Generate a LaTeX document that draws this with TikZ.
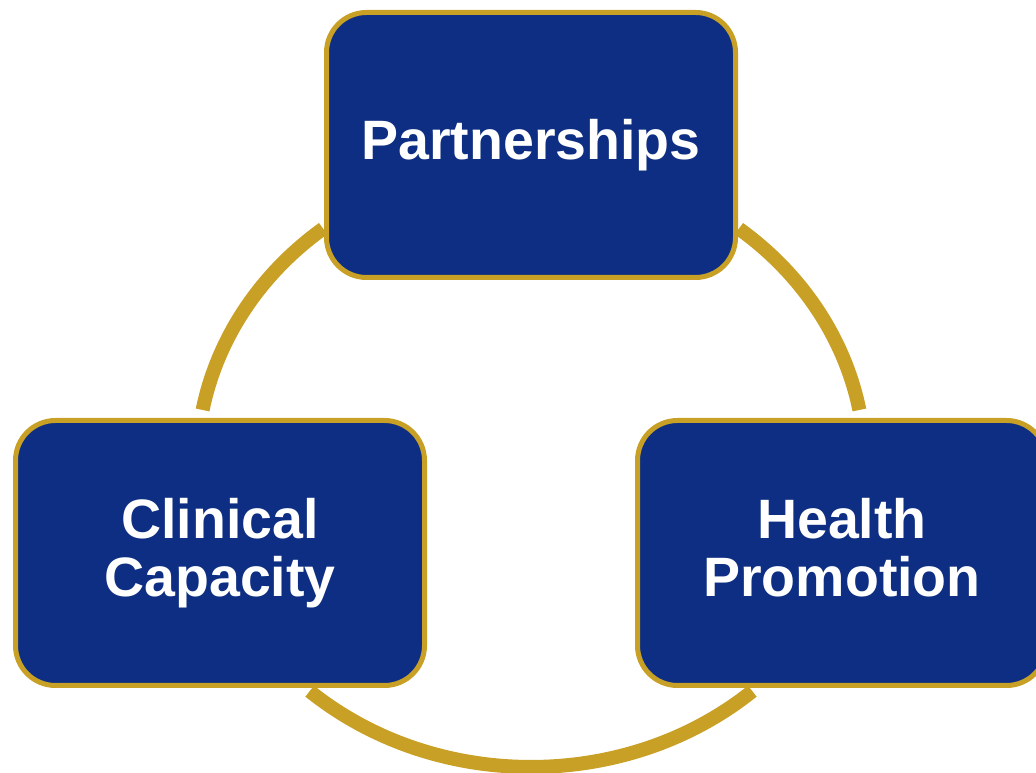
\documentclass[tikz,border=0pt]{standalone}
\usepackage{fontspec}
\setmainfont{Liberation Sans}
\definecolor{navy}{RGB}{13,46,130}
\definecolor{gold}{RGB}{201,160,38}
\newcommand{\lnstrut}{\rule[-11pt]{0pt}{47pt}}
\begin{document}
\begin{tikzpicture}[x=1pt,y=1pt,
  pillar/.style={draw=gold, line width=5pt, fill=navy, rounded corners=40pt,
    minimum width=409pt, minimum height=265pt, inner sep=0pt,
    text=white, align=center, font=\bfseries\fontsize{55.5}{58}\selectfont},
  ring/.style={draw=gold, line width=14pt, line cap=butt}]
\useasboundingbox (0,0) rectangle (1036,773);
\clip (0,0) rectangle (1036,773);
\coordinate (E) at (531,308);
% ring arcs (behind the boxes)
\draw[ring] (E) ++(128.5:334pt and 302pt) arc[start angle=128.5, end angle=169.5, x radius=334pt, y radius=302pt];
\draw[ring] (E) ++(10.5:334pt and 302pt) arc[start angle=10.5, end angle=51.5, x radius=334pt, y radius=302pt];
\draw[ring] (E) ++(228.5:334pt and 302pt) arc[start angle=228.5, end angle=311.5, x radius=334pt, y radius=302pt];
% boxes
\node[pillar] (part) at (531,628) {\lnstrut Partnerships};
\node[pillar] (clin) at (220,220) {\lnstrut Clinical\\\lnstrut Capacity};
\node[pillar] (health) at (842,220) {\lnstrut Health\\\lnstrut Promotion};
\end{tikzpicture}
\end{document}
